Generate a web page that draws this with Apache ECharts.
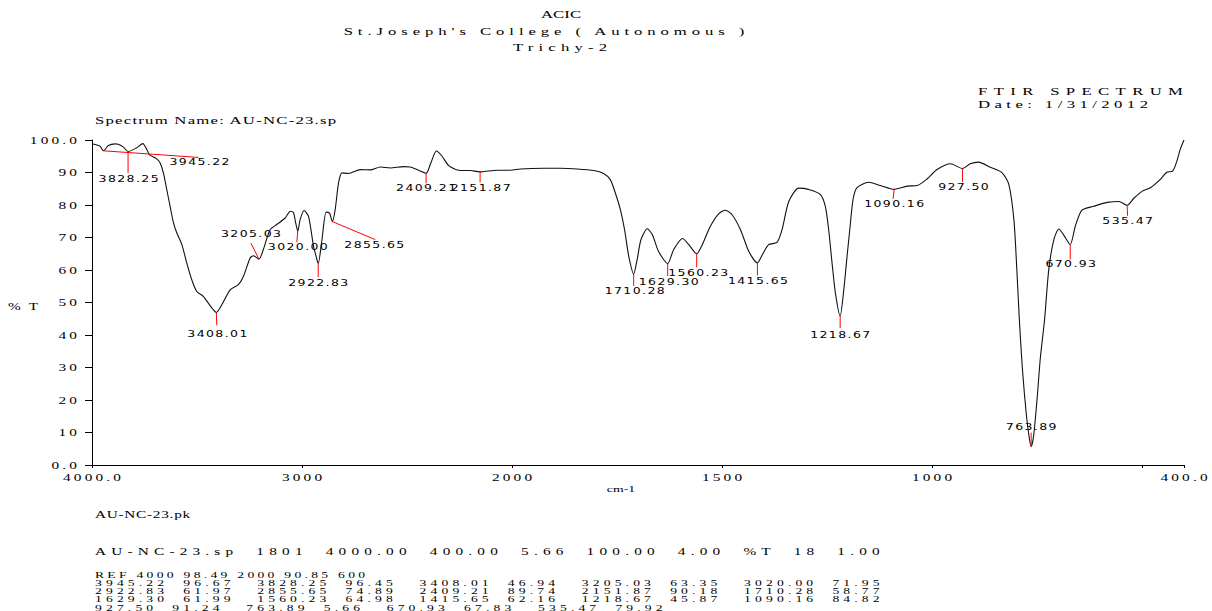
<!DOCTYPE html>
<html><head><meta charset="utf-8">
<script src="https://cdn.jsdelivr.net/npm/echarts@6/dist/echarts.min.js"></script>
<style>html,body{margin:0;padding:0;background:#fff}#c{width:1212px;height:611px}</style>
</head><body><div id="c"></div>
<script>
// ---------------- data ----------------
const spectrumWavenumbers = [4000,3985,3962,3945.22,3922,3890,3875,3850,3828.25,3787,3758,3739,3727,3692,3676,3660,3644,3628,3612,3596,3572,3549,3525,3501,3470,3446,3425,3408.01,3382,3342,3303,3279,3247,3231,3205.03,3184,3152,3120,3080,3056,3041,3030,3020.00,3009,2990,2969,2945,2930,2922.83,2905,2885,2869,2855.65,2842,2826,2810,2778,2723,2675,2627,2580,2516,2484,2445,2409.21,2386,2360,2333,2301,2254,2198,2151.87,2071,2008,1980,1924,1885,1845,1805,1782,1766,1754,1742,1732,1722,1710.28,1702,1693,1678,1666,1651,1629.30,1615,1594,1579,1560.23,1547,1528,1508,1492,1476,1456,1436,1415.65,1404,1389,1369,1357,1341,1317,1294,1266,1254,1246,1238,1230,1218.67,1210,1203,1195,1188,1179,1151,1123,1090.16,1059,1035,1012,988,956,927.50,909,889,861,833,817,805,798,792,785,775,768,763.89,758,750,742,732,722,710,698,687,670.93,659,643,615,583,555,535.47,520,500,480,457,441,427,417,409,400];
const spectrumTransmittance = [98.8,98.6,98.1,96.67,98.3,98.8,98.7,97.8,96.45,97.6,98.9,97.1,95.5,94.2,93.0,89.9,84.7,79.6,74.5,71.4,67.8,62.2,57.0,53.4,51.9,49.8,48.0,46.94,49.3,53.9,55.5,58.0,63.7,64.4,63.35,66.3,72.4,74.0,76.0,78.1,77.7,74.5,71.95,75.5,78.3,76.5,67.3,63.5,61.97,69.3,77.8,77.5,74.89,78.6,86.8,89.9,89.7,90.9,90.8,91.7,91.4,91.8,91.7,90.7,89.74,93.0,96.6,95.0,92.1,90.7,90.6,90.18,90.7,90.7,91.1,91.3,91.3,91.1,90.6,89.7,87.8,83.7,78.6,72.4,64.2,58.77,63.2,69.3,72.7,70.9,65.7,61.99,66.3,69.7,67.8,64.98,67.8,73.4,77.3,78.4,77.0,72.4,65.7,62.16,64.7,67.8,68.5,72.4,81.1,85.2,84.8,83.3,79.6,72.4,62.2,52.9,45.87,53.9,63.2,73.4,81.7,85.3,87.0,86.0,84.82,85.8,86.0,88.0,90.9,92.7,91.24,92.7,93.2,91.6,89.9,86.3,75.5,60.1,44.7,30,15,8,5.66,9,20,33,44.7,60.1,69.3,72.6,70.9,67.83,73.4,78.4,79.6,80.8,81.1,79.92,82.0,84.2,85.3,87.8,90.1,90.4,93.5,97.1,100.0];

const peakWavenumbers = [3945.22,3828.25,3408.01,3205.03,3020.00,2922.83,2855.65,2409.21,2151.87,1710.28,1629.30,1560.23,1415.65,1218.67,1090.16,927.50,763.89,670.93,535.47];
const peakTransmittance = [96.67,96.45,46.94,63.35,71.95,61.97,74.89,89.74,90.18,58.77,61.99,64.98,62.16,45.87,84.82,91.24,5.66,67.83,79.92];

const xTickValues = [4000,3000,2000,1500,1000,500,400];
const xTickLabels = ['4000.0','3000','2000','1500','1000','','400.0'];
const yTickValues = [0,10,20,30,40,50,60,70,80,90,100];
const yTickLabels = ['0.0','10','20','30','40','50','60','70','80','90','100.0'];

const titleLines = ['ACIC', "St.Joseph's College ( Autonomous )", 'Trichy-2'];
const infoLines = ['FTIR SPECTRUM', 'Date: 1/31/2012'];
const spectrumNameText = 'Spectrum Name: AU-NC-23.sp';
const yAxisName = '%T';
const xAxisName = 'cm-1';
const peakFileText = 'AU-NC-23.pk';
const specInfoText = 'AU-NC-23.sp  1801  4000.00  400.00  5.66  100.00  4.00  %T  18  1.00';
const refText = 'REF 4000 98.49 2000 90.85 600';

// ---------------- layout / style (not data) ----------------
const peakLabelLayout = [
 {lx:95, ly:6.6, tx:96, ty:11.6},
 {lx:0, ly:21.5, tx:0.5, ty:27.5},
 {lx:0.5, ly:13, tx:1, ty:22},
 {lx:-8, ly:-16, tx:-8, ty:-25},
 {lx:-1, ly:11, tx:0, ty:16},
 {lx:0, ly:13.5, tx:0, ty:19},
 {lx:43, ly:18, tx:42, ty:23},
 {lx:0, ly:10, tx:0, ty:15},
 {lx:0, ly:10.5, tx:0.5, ty:16},
 {lx:0, ly:12, tx:1, ty:17.5},
 {lx:0, ly:12.5, tx:1, ty:18.3},
 {lx:0, ly:13.5, tx:1.5, ty:19.3},
 {lx:0, ly:12.5, tx:0.5, ty:18.3},
 {lx:0, ly:12, tx:0, ty:19},
 {lx:-1, ly:9.5, tx:0, ty:15},
 {lx:0, ly:13.5, tx:1, ty:19},
 {lx:0, ly:-14, tx:0, ty:-20},
 {lx:0, ly:15, tx:0.5, ty:20},
 {lx:0.5, ly:10.5, tx:0.5, ty:15.7}
];
const SERIF = '"Liberation Serif", "Times New Roman", serif';
const SANS = '"DejaVu Sans", Verdana, sans-serif';

// the instrument plots 4000-2000 cm-1 at half the scale of 2000-400 cm-1
function axisPos(w) { return w <= 2000 ? w : 2000 + (w - 2000) / 2; }

// ---- tracked (letter-spaced) text helper: the print-out uses wide, tracked type ----
const mctx = document.createElement('canvas').getContext('2d');
const cssRules = [];
let tokenNo = 10;
function tracked(family, size, text, width, glyphScale) {
  tokenNo++;
  // unique, valid size string (one decimal point, never ends in 0)
  const sizeStr = (Number.isInteger(size) ? size + '.' : String(size)) + tokenNo + '1';
  const font = sizeStr + 'px ' + family;
  mctx.font = font;
  const natural = mctx.measureText(text).width * glyphScale;
  const n = Array.from(text).length;
  const s = n > 1 ? Math.max(0, (width - natural) / (n - 1) / glyphScale) : 0;
  cssRules.push('text[style*="' + sizeStr + 'px"]{letter-spacing:' + s.toFixed(2) + 'px}');
  return { font: font, s: s, g: glyphScale };
}
function shiftFor(f, align) { return align === 'center' ? f.s * f.g / 2 : align === 'right' ? f.s * f.g : 0; }

function txt(text, x, y, width, size, align, g) {
  align = align || 'left';
  const f = tracked(SERIF, size, text, width, g || 1.5);
  return {
    type: 'text', x: x + shiftFor(f, align), y: y, scaleX: f.g, z: 10,
    style: { text: text, font: f.font, fill: '#000', align: align, verticalAlign: 'middle' }
  };
}

// peak table rows, five pairs per row
const peakRows = [];
for (let i = 0; i < peakWavenumbers.length; i += 5) {
  const parts = [];
  for (let j = i; j < Math.min(i + 5, peakWavenumbers.length); j++) {
    parts.push(peakWavenumbers[j].toFixed(2) + '  ' + peakTransmittance[j].toFixed(2));
  }
  peakRows.push(parts.join('   '));
}
const rowFontInfo = tracked(SERIF, 8.5, peakRows[0], 785, 1.6);

const graphicEls = [
  txt(titleLines[0], 561, 14, 40, 11, 'center'),
  txt(titleLines[1], 544, 31, 402, 11, 'center'),
  txt(titleLines[2], 560, 47, 94, 11, 'center'),
  txt(infoLines[0], 978, 91, 205, 11),
  txt(infoLines[1], 978, 104, 170, 11),
  txt(spectrumNameText, 95, 120, 242, 11),
  txt(yAxisName, 8, 306, 30, 10),
  txt(xAxisName, 621, 489, 26, 9, 'center'),
  txt(peakFileText, 95, 514, 95, 10),
  txt(specInfoText, 95, 551, 785, 10),
  txt(refText, 95, 575, 270, 8.5, 'left', 1.6)
];
peakRows.forEach(function (r, k) {
  graphicEls.push({
    type: 'text', x: 95, y: 583.3 + k * 8.1, scaleX: rowFontInfo.g, z: 10,
    style: { text: r, font: rowFontInfo.font, fill: '#000', align: 'left', verticalAlign: 'middle' }
  });
});

const tickFont = tracked(SERIF, 10, '4000.0', 58, 1.5);
const peakFont = tracked(SANS, 9, '3945.22', 60, 1.35);

const styleEl = document.createElement('style');
styleEl.textContent = cssRules.join('\n');
document.head.appendChild(styleEl);

const chart = echarts.init(document.getElementById('c'), null, { renderer: 'svg' });
chart.setOption({
  animation: false,
  backgroundColor: '#fff',
  grid: { left: 92, right: 28, top: 140, bottom: 146 },
  xAxis: {
    type: 'value', inverse: true, min: axisPos(400), max: axisPos(4000),
    axisLine: { lineStyle: { color: '#000', width: 1 } },
    axisTick: { show: true, length: 3, lineStyle: { color: '#000' }, customValues: xTickValues.map(axisPos) },
    axisLabel: { show: false },
    splitLine: { show: false }
  },
  yAxis: {
    type: 'value', min: 0, max: 100, interval: 10,
    axisLine: { show: true, lineStyle: { color: '#000', width: 1 } },
    axisTick: { show: true, length: 7, lineStyle: { color: '#000' } },
    axisLabel: { show: false },
    splitLine: { show: false }
  },
  graphic: { elements: graphicEls },
  series: [
    {
      type: 'line', name: 'spectrum', showSymbol: false, smooth: 0.25,
      lineStyle: { color: '#111', width: 1.1 },
      data: spectrumWavenumbers.map(function (w, i) { return [axisPos(w), spectrumTransmittance[i]]; }),
      z: 2, silent: true
    },
    {
      type: 'custom', name: 'peaks', clip: false, z: 3, silent: true,
      data: peakWavenumbers.map(function (w, i) { return [axisPos(w), peakTransmittance[i], w]; }),
      renderItem: function (params, api) {
        const p = api.coord([api.value(0), api.value(1)]);
        const o = peakLabelLayout[params.dataIndex];
        return { type: 'group', children: [
          { type: 'line', shape: { x1: p[0], y1: p[1], x2: p[0] + o.lx, y2: p[1] + o.ly },
            style: { stroke: '#ff0000', lineWidth: 1 } },
          { type: 'text', x: p[0] + o.tx + shiftFor(peakFont, 'center'), y: p[1] + o.ty, scaleX: peakFont.g,
            style: { text: api.value(2).toFixed(2), font: peakFont.font, fill: '#000', align: 'center', verticalAlign: 'middle' } }
        ] };
      }
    },
    {
      type: 'custom', name: 'xTickLabels', clip: false, silent: true,
      data: xTickValues.map(function (v, i) { return [axisPos(v), 0, i]; }),
      renderItem: function (params, api) {
        const p = api.coord([api.value(0), api.value(1)]);
        return { type: 'text', x: p[0] + shiftFor(tickFont, 'center'), y: p[1] + 12, scaleX: tickFont.g,
          style: { text: xTickLabels[api.value(2)], font: tickFont.font, fill: '#000', align: 'center', verticalAlign: 'middle' } };
      }
    },
    {
      type: 'custom', name: 'yTickLabels', clip: false, silent: true,
      data: yTickValues.map(function (v, i) { return [axisPos(4000), v, i]; }),
      renderItem: function (params, api) {
        const p = api.coord([api.value(0), api.value(1)]);
        return { type: 'text', x: p[0] - 15 + shiftFor(tickFont, 'right'), y: p[1], scaleX: tickFont.g,
          style: { text: yTickLabels[api.value(2)], font: tickFont.font, fill: '#000', align: 'right', verticalAlign: 'middle' } };
      }
    }
  ]
});
</script>
</body></html>
